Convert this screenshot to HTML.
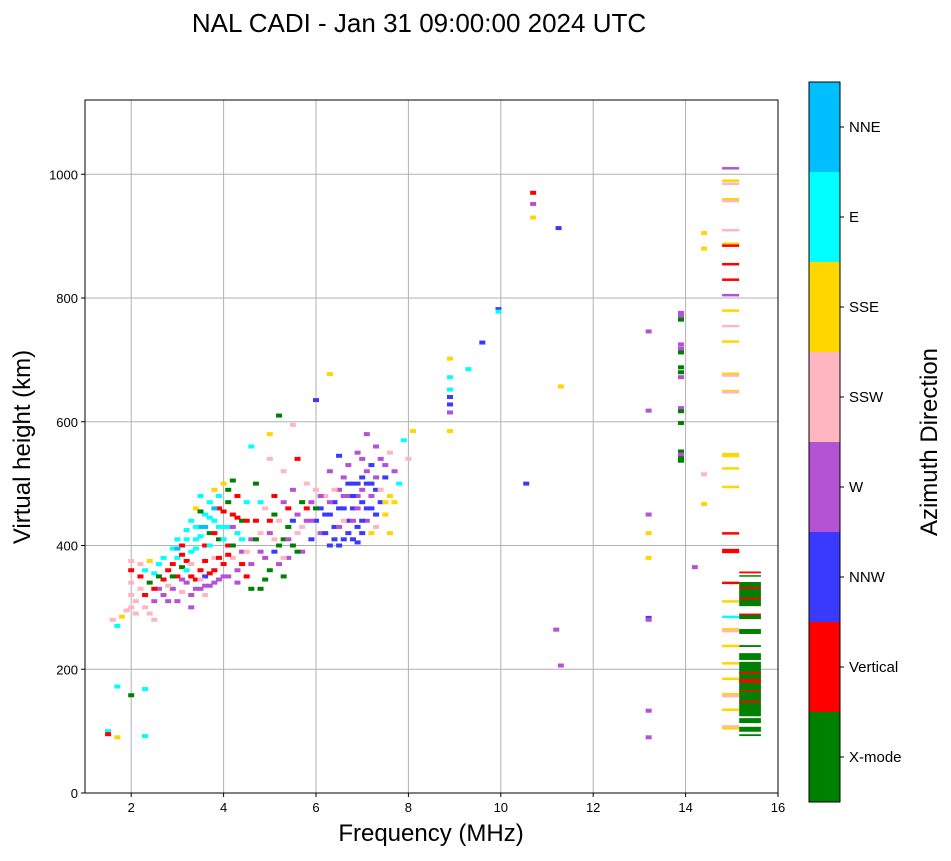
<!DOCTYPE html>
<html><head><meta charset="utf-8"><style>
body{margin:0;background:#fff;font-family:"Liberation Sans",sans-serif}
</style></head><body>
<svg id="chart" width="951" height="856" xmlns="http://www.w3.org/2000/svg" font-family="Liberation Sans, sans-serif"></svg>
<script>
const colorNames=["X-mode","Vertical","NNW","W","SSW","SSE","E","NNE"];
const colors=["#008000","#ff0000","#3a3aff","#b452d4","#ffb6c1","#ffd700","#00ffff","#00bfff"];
const xTicks=[2,4,6,8,10,12,14,16];
const yTicks=[0,200,400,600,800,1000];
// [freq MHz, height km, direction index]
const cloudPoints=[[1.5,100,6],[1.5,95,1],[1.7,90,5],[1.7,172,6],[2.0,158,0],[2.3,92,6],[2.3,168,6],[1.6,280,4],[1.7,270,6],[1.8,285,5],[1.9,295,4],[2.0,300,4],[2.0,320,4],[2.0,340,4],[2.0,360,1],[2.0,375,4],[2.1,310,4],[2.2,330,4],[2.2,350,1],[2.3,300,4],[2.3,320,1],[2.3,360,6],[2.4,290,4],[2.4,340,0],[2.4,375,5],[2.5,280,4],[2.5,310,3],[2.5,355,6],[2.6,330,3],[2.6,370,6],[2.7,320,3],[2.7,345,1],[2.7,380,6],[2.8,310,3],[2.8,360,1],[2.9,330,3],[2.9,395,6],[3.0,310,3],[3.0,350,1],[3.0,380,6],[3.0,410,6],[3.1,325,4],[3.1,365,0],[3.1,400,1],[3.2,340,3],[3.2,375,1],[3.2,425,6],[3.3,320,3],[3.3,390,6],[3.3,440,6],[3.4,345,1],[3.4,410,6],[3.4,460,5],[3.5,330,3],[3.5,360,1],[3.5,430,7],[3.5,480,6],[3.6,350,2],[3.6,400,1],[3.6,450,6],[3.7,335,3],[3.7,420,0],[3.7,470,6],[3.8,360,1],[3.8,440,6],[3.8,490,5],[3.9,345,3],[3.9,410,0],[3.9,460,1],[4.0,370,1],[4.0,430,6],[4.0,500,5],[4.1,350,3],[4.1,400,1],[4.1,470,0],[4.2,380,4],[4.2,450,1],[4.2,505,0],[4.3,360,3],[4.3,420,6],[4.3,480,1],[4.4,390,3],[4.4,440,0],[4.5,350,1],[4.5,470,6],[4.6,410,3],[4.6,560,6],[4.7,440,1],[4.7,500,0],[4.8,330,0],[4.8,390,3],[4.9,460,4],[5.0,360,0],[5.0,420,3],[5.0,540,4],[5.0,580,5],[5.1,390,2],[5.1,480,1],[5.2,370,3],[5.2,440,4],[5.2,610,0],[5.3,410,0],[5.3,520,4],[5.4,380,3],[5.4,460,1],[5.5,400,0],[5.5,490,3],[5.5,595,4],[5.6,420,4],[5.6,540,1],[5.7,390,3],[5.7,470,0],[5.8,440,3],[5.8,500,4],[5.9,410,2],[5.9,470,3],[6.0,440,2],[6.0,490,4],[6.0,635,2],[6.1,420,3],[6.1,460,2],[6.2,480,4],[6.3,400,2],[6.3,450,2],[6.3,520,3],[6.4,430,2],[6.4,470,2],[6.5,490,3],[6.5,545,2],[6.6,410,2],[6.6,460,2],[6.6,510,3],[6.7,440,2],[6.7,480,3],[6.7,530,3],[6.8,410,2],[6.8,460,2],[6.8,500,2],[6.9,430,2],[6.9,480,3],[6.9,550,3],[7.0,420,2],[7.0,470,2],[7.0,510,2],[7.1,440,3],[7.1,500,2],[7.1,580,3],[7.2,460,2],[7.2,530,2],[7.3,430,4],[7.3,490,2],[7.3,560,3],[7.4,470,2],[7.4,540,3],[7.5,450,5],[7.5,510,2],[7.6,480,5],[7.6,550,4],[7.7,470,5],[7.7,520,3],[7.8,500,6],[7.9,570,6],[8.0,540,4],[8.1,585,5],[6.3,677,5],
[6.5,400,2],[6.9,405,2],[7.2,420,5],[4.9,345,0],[5.3,350,0],[3.3,300,3],[3.6,320,4],[2.9,350,0],[3.8,380,4],[4.6,330,0],[6.2,420,2],[6.6,440,4],[7.6,420,5],
[2.1,290,4],[2.2,370,4],[2.5,330,1],[2.6,350,0],[2.8,335,4],[2.9,370,1],[3.0,395,7],[3.1,345,3],[3.1,385,1],[3.2,360,6],[3.2,410,6],[3.3,350,1],[3.3,370,4],[3.4,330,3],[3.4,395,6],[3.4,430,6],[3.5,345,4],[3.5,415,6],[3.5,455,0],[3.6,335,3],[3.6,375,1],[3.6,430,7],[3.7,355,1],[3.7,400,6],[3.7,445,6],[3.8,340,3],[3.8,420,1],[3.8,460,7],[3.9,380,1],[3.9,430,6],[3.9,480,6],[4.0,350,3],[4.0,410,6],[4.0,455,1],[4.1,385,1],[4.1,430,6],[4.1,490,0],[4.2,400,0],[4.2,430,3],[4.3,340,3],[4.3,445,1],[4.4,370,1],[4.4,410,6],[4.5,390,4],[4.5,440,1],[4.6,370,3],[4.7,410,0],[4.8,420,4],[4.8,470,6],[4.9,380,3],[5.0,440,1],[5.1,410,4],[5.1,450,0],[5.2,400,0],[5.3,380,4],[5.3,470,3],[5.4,410,3],[5.4,430,0],[5.5,440,2],[5.6,450,3],[5.6,390,0],[5.7,430,4],[5.8,460,1],[5.9,440,3],[6.0,460,0],[6.1,480,3],[6.2,450,2],[6.3,470,3],[6.4,490,4],[6.4,410,2],[6.5,460,2],[6.5,430,3],[6.6,480,3],[6.7,420,2],[6.7,500,2],[6.8,440,3],[6.8,480,2],[6.9,460,3],[6.9,500,2],[7.0,440,2],[7.0,490,3],[7.0,540,3],[7.1,460,2],[7.1,520,3],[7.2,480,3],[7.2,500,2],[7.3,450,2],[7.3,510,3],[7.4,490,4],[7.5,470,5],[7.5,530,3]];
const sparsePoints=[[8.9,702,5],[8.9,672,6],[8.9,652,6],[8.9,640,2],[8.9,628,2],[8.9,615,3],[8.9,585,5],[9.3,685,6],[9.6,728,2],[9.95,782,2],[9.95,778,6],[10.55,500,2],[10.7,970,1],[10.7,952,3],[10.7,930,5],[11.25,913,2],[11.3,657,5],[11.2,264,3],[11.3,206,3],
[13.2,746,3],[13.2,618,3],[13.2,450,3],[13.2,420,5],[13.2,380,5],[13.2,283,2],[13.2,280,3],[13.2,133,3],[13.2,90,3],
[13.9,776,3],[13.9,770,3],[13.9,765,0],[13.9,725,3],[13.9,718,3],[13.9,712,0],[13.9,688,0],[13.9,680,0],[13.9,672,3],[13.9,622,3],[13.9,617,0],[13.9,598,0],[13.9,552,0],[13.9,547,3],[13.9,541,0],[13.9,537,0],[14.2,365,3],[14.4,905,5],[14.4,880,5],[14.4,515,4],[14.4,467,5]];
const columnLines=[[1010,3],[990,5],[985,4],[960,5],[957,4],[910,4],[888,5],[885,1],[855,1],[830,1],[805,3],[780,5],[755,4],[730,5],[678,5],[675,4],[650,5],[648,4],[548,5],[545,5],[525,5],[495,5],[420,1],[393,1],[390,1],[340,1],[310,5],[285,6],[265,5],[262,4],[238,5],[210,5],[185,5],[160,5],[157,4],[135,5],[108,4],[105,5]];
// green block segments [top km, bottom km, dir]
const blockSegs=[[341,302,0],[289,281,0],[265,257,0],[239,236,0],[226,215,0],[212,124,0],[121,113,0],[107,99,0],[95,92,0],[358,355,1],[352,350,0],[333,330,1],[316,313,1],[290,288,1],[196,193,1],[184,178,1],[166,164,1],[149,146,1]];

const svg=document.getElementById('chart');const NS="http://www.w3.org/2000/svg";
function mk(t,a,name,parent){const e=document.createElementNS(NS,t);for(const k in a)e.setAttribute(k,a[k]);


(parent||svg).appendChild(e);return e;}
const L=85,R=778,T=100,B=793;
const xs=f=>L+(f-1)/15*(R-L);
const ys=h=>B-h/1120*(B-T);
mk('text',{x:419,y:32,'font-size':26,'text-anchor':'middle'},'chart-title').textContent="NAL CADI - Jan 31 09:00:00 2024 UTC";
for(const t of xTicks){mk('line',{x1:xs(t),x2:xs(t),y1:T,y2:B,stroke:'#b0b0b0','stroke-width':1},'x-gridline');
mk('line',{x1:xs(t),x2:xs(t),y1:B,y2:B+4,stroke:'#000'},'x-tick');
mk('text',{x:xs(t),y:B+19,'font-size':13,'text-anchor':'middle'},'x-tick-label').textContent=t;}
for(const t of yTicks){mk('line',{x1:L,x2:R,y1:ys(t),y2:ys(t),stroke:'#b0b0b0','stroke-width':1},'y-gridline');
mk('line',{x1:L-4,x2:L,y1:ys(t),y2:ys(t),stroke:'#000'},'y-tick');
mk('text',{x:L-7,y:ys(t)+5,'font-size':13,'text-anchor':'end'},'y-tick-label').textContent=t;}
const g=mk('g',{},'data-marks');
for(const p of cloudPoints.concat(sparsePoints)){mk('rect',{x:xs(p[0])-3,y:ys(p[1])-2,width:6,height:4,fill:colors[p[2]]},'echo-mark',g);}
for(const p of columnLines){mk('rect',{x:xs(14.79),y:ys(p[0])-1,width:xs(15.16)-xs(14.79),height:2.5,fill:colors[p[1]]},'column-echo-line',g);}
for(const s of blockSegs){mk('rect',{x:xs(15.16),y:ys(s[0]),width:xs(15.63)-xs(15.16),height:Math.max(1.5,ys(s[1])-ys(s[0])),fill:colors[s[2]]},'xmode-block-segment',g);}
mk('rect',{x:L,y:T,width:R-L,height:B-T,fill:'none',stroke:'#000','stroke-width':1},'plot-frame');
mk('text',{x:431,y:841,'font-size':24,'text-anchor':'middle'},'x-axis-title').textContent="Frequency (MHz)";
mk('text',{x:30,y:447,'font-size':24,'text-anchor':'middle',transform:'rotate(-90 30 447)'},'y-axis-title').textContent="Virtual height (km)";
const cbT=82,cbB=802,cbX=809,cbW=31,seg=(cbB-cbT)/8;
for(let i=0;i<8;i++){const y=cbB-(i+1)*seg;
mk('rect',{x:cbX,y:y,width:cbW,height:seg,fill:colors[i]},'colorbar-segment');
mk('line',{x1:cbX+cbW,x2:cbX+cbW+4,y1:y+seg/2,y2:y+seg/2,stroke:'#000'},'colorbar-tick');
mk('text',{x:cbX+cbW+9,y:y+seg/2+5,'font-size':15},'colorbar-label').textContent=colorNames[i];}
mk('rect',{x:cbX,y:cbT,width:cbW,height:cbB-cbT,fill:'none',stroke:'#000'},'colorbar-frame');
mk('text',{x:937,y:442,'font-size':24,'text-anchor':'middle',transform:'rotate(-90 937 442)'},'colorbar-title').textContent="Azimuth Direction";
</script>
</body></html>
